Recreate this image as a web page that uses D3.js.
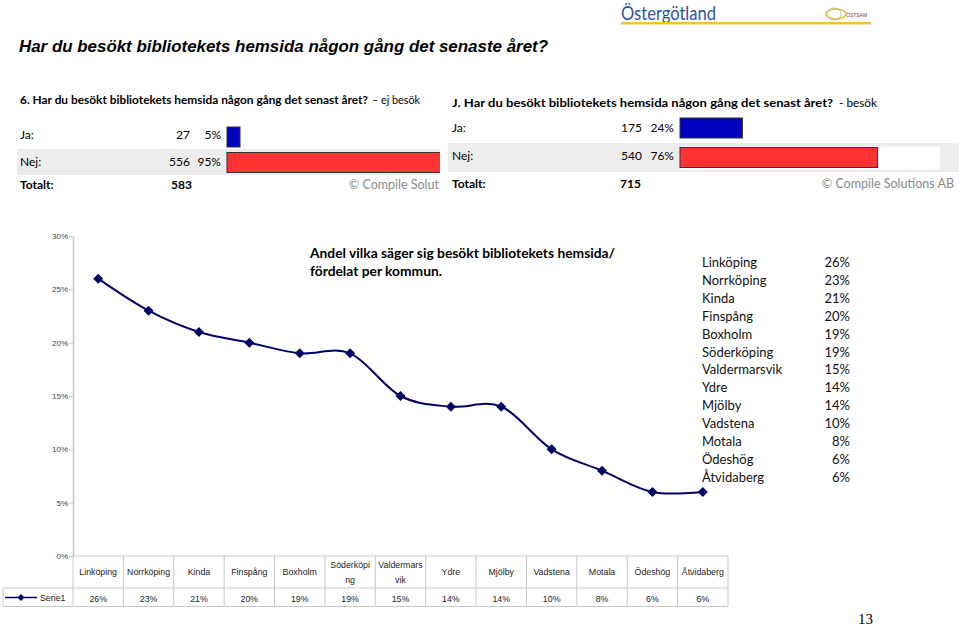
<!DOCTYPE html>
<html><head><meta charset="utf-8">
<script src="https://cdn.jsdelivr.net/npm/d3@7/dist/d3.min.js"></script>
<style>body{margin:0;background:#fff}svg{display:block}</style>
</head><body><svg id="c" width="959" height="626"></svg>
<script>
// ---------- data ----------
const categories = ["Linköping","Norrköping","Kinda","Finspång","Boxholm","Söderköping","Valdermarsvik","Ydre","Mjölby","Vadstena","Motala","Ödeshög","Åtvidaberg"];
const values = [26,23,21,20,19,19,15,14,14,10,8,6,6];
const categoryLines = [["Linköping"],["Norrköping"],["Kinda"],["Finspång"],["Boxholm"],["Söderköpi","ng"],["Valdermars","vik"],["Ydre"],["Mjölby"],["Vadstena"],["Motala"],["Ödeshög"],["Åtvidaberg"]];
const yTicks = [0,5,10,15,20,25,30];
const seriesName = "Serie1";
const rowLabels = ["Ja:","Nej:","Totalt:"];
const leftCounts = [27,556,583];
const leftPcts = [5,95];
const rightCounts = [175,540,715];
const rightPcts = [24,76];
const pageTitle = "Har du besökt bibliotekets hemsida någon gång det senaste året?";
const leftQ = ["6. Har du besökt bibliotekets hemsida någon gång det senast året?","– ej besök"];
const rightQ = ["J. Har du besökt bibliotekets hemsida någon gång det senast året?","- besök"];
const copyTexts = ["© Compile Solut","© Compile Solutions AB"];
const chartTitle = ["Andel vilka säger sig besökt bibliotekets hemsida/","fördelat per kommun."];

// ---------- drawing ----------
const svg = d3.select("#c");
const GOTH = "Lato, 'Noto Sans', sans-serif";
const ARIAL = "'Liberation Sans', Arial, sans-serif";

// Title
svg.append("text").attr("x",19).attr("y",52).attr("font-family",ARIAL)
  .attr("font-size",17).attr("font-weight","bold").attr("font-style","italic")
  .attr("textLength",529).attr("lengthAdjust","spacingAndGlyphs").text(pageTitle);

// Logo
svg.append("text").attr("x",621).attr("y",20).attr("font-family",GOTH).attr("font-size",19)
  .attr("fill","#2f5597").attr("textLength",95).attr("lengthAdjust","spacingAndGlyphs").text("Östergötland");
svg.append("rect").attr("x",621).attr("y",22).attr("width",250).attr("height",2.5).attr("fill","#f2c230");
svg.append("ellipse").attr("cx",836).attr("cy",14).attr("rx",10).attr("ry",5).attr("fill","none").attr("stroke","#e8c040").attr("stroke-width",1.5);
svg.append("ellipse").attr("cx",834).attr("cy",14).attr("rx",7).attr("ry",6).attr("fill","none").attr("stroke","#b0b0b0").attr("stroke-width",0.8);
svg.append("text").attr("x",846).attr("y",17).attr("font-family",ARIAL).attr("font-size",5).attr("fill","#555").text("ÖSTSAM");

// Survey table helper
function surveyTable(o){
  const g = svg.append("g");
  const xb = d3.scaleLinear().domain([0,100]).range([o.barX, o.barX+260]);
  const clipId = "clip"+o.id;
  svg.append("clipPath").attr("id",clipId).append("rect").attr("x",0).attr("y",0).attr("width",o.clipR).attr("height",626);
  g.attr("clip-path",`url(#${clipId})`);
  g.append("text").attr("x",o.x).attr("y",o.qY).attr("font-family",GOTH).attr("font-size",11.5)
    .attr("font-weight","bold").attr("textLength",o.qW).attr("lengthAdjust","spacingAndGlyphs").text(o.q[0]);
  g.append("text").attr("x",o.q2X).attr("y",o.qY).attr("font-family",GOTH).attr("font-size",11.5)
    .attr("textLength",o.q2W).attr("lengthAdjust","spacingAndGlyphs").text(o.q[1]);
  g.append("rect").attr("x",o.grayX).attr("y",o.grayY).attr("width",o.grayW).attr("height",o.grayH).attr("fill","#ececec");
  if(o.track) g.append("rect").attr("x",xb(0)).attr("y",o.barY[1]-1).attr("width",xb(100)-xb(0)).attr("height",23).attr("fill","#fff");
  const cols = ["#0000c0","#ff3333"];
  o.pcts.forEach((p,i)=>{
    g.append("text").attr("x",o.x).attr("y",o.rowY[i]+4).attr("font-family",GOTH).attr("font-size",12).text(rowLabels[i]);
    g.append("text").attr("x",o.cntR).attr("y",o.rowY[i]+4).attr("text-anchor","end").attr("font-family",GOTH).attr("font-size",12).text(o.counts[i]);
    g.append("text").attr("x",o.pctR).attr("y",o.rowY[i]+4).attr("text-anchor","end").attr("font-family",GOTH).attr("font-size",12).text(p+"%");
    g.append("rect").attr("x",xb(0)).attr("y",o.barY[i]).attr("width",xb(p)-xb(0)).attr("height",20)
      .attr("fill",cols[i]).attr("stroke","#333").attr("stroke-width",1);
  });
  g.append("text").attr("x",o.x).attr("y",o.rowY[2]+4).attr("font-family",GOTH).attr("font-size",12).attr("font-weight","bold").text(rowLabels[2]);
  g.append("text").attr("x",o.totX).attr("y",o.rowY[2]+4).attr("font-family",GOTH).attr("font-size",12).attr("font-weight","bold").text(o.counts[2]);
  g.append("text").attr("x",o.copyX).attr("y",o.rowY[2]+4).attr("font-family",GOTH).attr("font-size",12.5).attr("fill","#8a8a8a").attr("text-anchor","end").text(o.copy);
}
surveyTable({id:"L",x:20,q:leftQ,qY:104,qW:348,q2X:372,q2W:48,grayX:17,grayY:149,grayW:423,grayH:26,
  rowY:[135,162,185],barY:[127,152.5],barX:227,cntR:190,pctR:221,totX:171,counts:leftCounts,pcts:leftPcts,
  clipR:440,copyX:439,copy:copyTexts[0],track:false});
surveyTable({id:"R",x:452,q:rightQ,qY:107,qW:381,q2X:839,q2W:38,grayX:448,grayY:143,grayW:511,grayH:29,
  rowY:[128,156,184],barY:[118,147.5],barX:680,cntR:642,pctR:674,totX:620,counts:rightCounts,pcts:rightPcts,
  clipR:959,copyX:954,copy:copyTexts[1],track:true});

// ---------- line chart ----------
const x = d3.scaleBand().domain(categories).range([73,728]);
const y = d3.scaleLinear().domain([0,30]).range([556,236]);
const cx = d=>x(d)+x.bandwidth()/2;

const yAxis = svg.append("g").attr("transform","translate(73,0)")
  .call(d3.axisLeft(y).tickValues(yTicks).tickFormat(d=>d+"%").tickSize(4).tickSizeOuter(0));
yAxis.select(".domain").attr("stroke","#c8c8c8").attr("stroke-width",1.5);
yAxis.selectAll(".tick line").attr("stroke","#c8c8c8");
yAxis.selectAll(".tick text").attr("font-family",ARIAL).attr("font-size",8).attr("fill","#444").attr("x",-5);

const grid = svg.append("g").attr("stroke","#c8c8c8").attr("stroke-width",1);
grid.append("line").attr("x1",73).attr("x2",728).attr("y1",556).attr("y2",556);
grid.append("line").attr("x1",3).attr("x2",728).attr("y1",588).attr("y2",588);
grid.append("line").attr("x1",3).attr("x2",728).attr("y1",606.5).attr("y2",606.5);
grid.append("line").attr("x1",3).attr("x2",3).attr("y1",588).attr("y2",606.5);
categories.forEach(c=>{
  grid.append("line").attr("x1",x(c)).attr("x2",x(c)).attr("y1",556).attr("y2",606.5);
});
grid.append("line").attr("x1",728).attr("x2",728).attr("y1",556).attr("y2",606.5);

categories.forEach((c,i)=>{
  const lines = categoryLines[i];
  lines.forEach((t,j)=>{
    svg.append("text").attr("x",cx(c)).attr("y",(lines.length===1?575:568+j*15))
      .attr("text-anchor","middle").attr("font-family",ARIAL).attr("font-size",8.8).attr("fill","#222").text(t);
  });
  svg.append("text").attr("x",cx(c)).attr("y",602).attr("text-anchor","middle")
    .attr("font-family",ARIAL).attr("font-size",8.8).attr("fill","#222").text(values[i]+"%");
});

const navy = "#000066";
svg.append("line").attr("x1",5).attr("x2",37).attr("y1",597.5).attr("y2",597.5).attr("stroke",navy).attr("stroke-width",1.5);
svg.append("path").attr("d",d3.symbol(d3.symbolSquare,24)()).attr("transform","translate(21,597.5) rotate(45)").attr("fill",navy);
svg.append("text").attr("x",40).attr("y",601).attr("font-family",ARIAL).attr("font-size",8.8).attr("fill","#222").text(seriesName);

const pts = categories.map((c,i)=>[cx(c),y(values[i])]);
svg.append("path").attr("d",d3.line().curve(d3.curveCatmullRom.alpha(0))(pts))
  .attr("fill","none").attr("stroke",navy).attr("stroke-width",2);
svg.selectAll(".mk").data(pts).join("path").attr("class","mk")
  .attr("d",d3.symbol(d3.symbolSquare,50)()).attr("transform",d=>`translate(${d[0]},${d[1]}) rotate(45)`).attr("fill",navy);

chartTitle.forEach((t,i)=>{
  svg.append("text").attr("x",310).attr("y",258+i*17.5).attr("font-family",GOTH).attr("font-size",14)
    .attr("font-weight","bold").attr("textLength",i===0?305:132).attr("lengthAdjust","spacingAndGlyphs").text(t);
});

categories.forEach((c,i)=>{
  const yy = 267+i*17.9;
  svg.append("text").attr("x",702).attr("y",yy).attr("font-family",GOTH).attr("font-size",13).attr("fill","#111").text(c);
  svg.append("text").attr("x",850).attr("y",yy).attr("text-anchor","end").attr("font-family",GOTH).attr("font-size",13).attr("fill","#111").text(values[i]+"%");
});

svg.append("text").attr("x",858).attr("y",624).attr("font-family","'Liberation Serif', serif").attr("font-size",15).text("13");
</script></body></html>
